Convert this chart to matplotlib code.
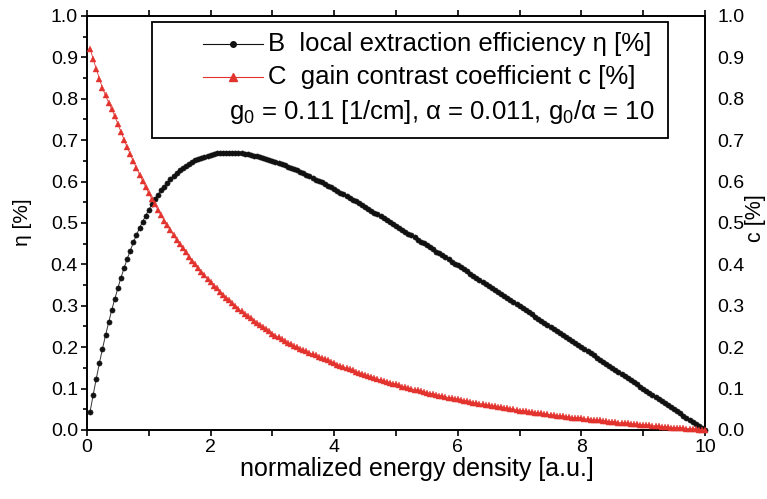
import numpy as np
import matplotlib
matplotlib.use("Agg")
import matplotlib.pyplot as plt
from matplotlib.lines import Line2D
from matplotlib.patches import Rectangle
from matplotlib.ticker import MultipleLocator

plt.rcParams["font.family"] = ["Liberation Sans", "DejaVu Sans"]
plt.rcParams["mathtext.fontset"] = "custom"
plt.rcParams["mathtext.rm"] = "Liberation Sans"
plt.rcParams["mathtext.it"] = "Liberation Sans:italic"
plt.rcParams["mathtext.default"] = "regular"

# sample positions along the normalized energy density axis (step 0.05)
energy = np.round(np.arange(1, 201) * 0.05, 2)

# local extraction efficiency eta
eta = [
    0.044, 0.085, 0.124, 0.161, 0.196, 0.229, 0.260, 0.290, 0.317, 0.343,
    0.368, 0.391, 0.413, 0.433, 0.453, 0.471, 0.488, 0.503, 0.518, 0.532,
    0.545, 0.557, 0.568, 0.579, 0.588, 0.597, 0.606, 0.613, 0.620, 0.627,
    0.633, 0.638, 0.643, 0.647, 0.651, 0.655, 0.658, 0.660, 0.663, 0.665,
    0.666, 0.668, 0.669, 0.669, 0.670, 0.670, 0.670, 0.669, 0.669, 0.668,
    0.667, 0.666, 0.664, 0.663, 0.661, 0.659, 0.657, 0.655, 0.653, 0.650,
    0.648, 0.645, 0.642, 0.639, 0.636, 0.633, 0.630, 0.627, 0.623, 0.620,
    0.616, 0.613, 0.609, 0.605, 0.601, 0.598, 0.594, 0.590, 0.586, 0.582,
    0.578, 0.573, 0.569, 0.565, 0.561, 0.556, 0.552, 0.548, 0.543, 0.539,
    0.534, 0.530, 0.525, 0.521, 0.516, 0.512, 0.507, 0.503, 0.498, 0.493,
    0.489, 0.484, 0.479, 0.474, 0.470, 0.465, 0.460, 0.455, 0.451, 0.446,
    0.441, 0.436, 0.431, 0.427, 0.422, 0.417, 0.412, 0.407, 0.402, 0.398,
    0.393, 0.388, 0.383, 0.378, 0.373, 0.368, 0.363, 0.358, 0.353, 0.349,
    0.344, 0.339, 0.334, 0.329, 0.324, 0.319, 0.314, 0.309, 0.304, 0.299,
    0.294, 0.289, 0.284, 0.279, 0.274, 0.269, 0.264, 0.259, 0.254, 0.249,
    0.244, 0.240, 0.235, 0.230, 0.225, 0.220, 0.215, 0.210, 0.205, 0.200,
    0.195, 0.190, 0.185, 0.180, 0.175, 0.170, 0.165, 0.160, 0.155, 0.150,
    0.145, 0.140, 0.135, 0.130, 0.125, 0.120, 0.115, 0.110, 0.105, 0.100,
    0.095, 0.090, 0.085, 0.080, 0.075, 0.070, 0.065, 0.060, 0.055, 0.050,
    0.045, 0.040, 0.035, 0.030, 0.025, 0.020, 0.015, 0.010, 0.005, 0.000,
]

# gain contrast coefficient c
contrast = [
    0.921, 0.896, 0.872, 0.849, 0.826, 0.808, 0.791, 0.775, 0.758, 0.739,
    0.720, 0.701, 0.683, 0.666, 0.649, 0.633, 0.617, 0.602, 0.587, 0.572,
    0.558, 0.545, 0.531, 0.519, 0.506, 0.494, 0.482, 0.471, 0.460, 0.449,
    0.439, 0.429, 0.419, 0.409, 0.400, 0.391, 0.382, 0.374, 0.365, 0.357,
    0.349, 0.342, 0.334, 0.327, 0.320, 0.313, 0.306, 0.300, 0.293, 0.287,
    0.281, 0.275, 0.270, 0.264, 0.258, 0.253, 0.248, 0.243, 0.238, 0.233,
    0.228, 0.224, 0.219, 0.215, 0.211, 0.207, 0.203, 0.200, 0.196, 0.193,
    0.190, 0.186, 0.183, 0.180, 0.177, 0.174, 0.171, 0.168, 0.165, 0.162,
    0.158, 0.155, 0.152, 0.149, 0.147, 0.144, 0.141, 0.138, 0.136, 0.133,
    0.131, 0.128, 0.126, 0.123, 0.121, 0.118, 0.116, 0.114, 0.112, 0.110,
    0.108, 0.105, 0.103, 0.101, 0.099, 0.097, 0.096, 0.094, 0.092, 0.090,
    0.088, 0.087, 0.085, 0.083, 0.082, 0.080, 0.078, 0.077, 0.075, 0.074,
    0.072, 0.071, 0.069, 0.068, 0.066, 0.065, 0.064, 0.062, 0.061, 0.060,
    0.058, 0.057, 0.056, 0.055, 0.053, 0.052, 0.051, 0.050, 0.049, 0.047,
    0.046, 0.045, 0.044, 0.043, 0.042, 0.041, 0.040, 0.039, 0.038, 0.037,
    0.036, 0.035, 0.034, 0.033, 0.032, 0.031, 0.030, 0.029, 0.029, 0.028,
    0.027, 0.026, 0.025, 0.024, 0.024, 0.023, 0.022, 0.021, 0.020, 0.020,
    0.019, 0.018, 0.017, 0.017, 0.016, 0.015, 0.014, 0.014, 0.013, 0.012,
    0.012, 0.011, 0.010, 0.010, 0.009, 0.008, 0.008, 0.007, 0.006, 0.006,
    0.005, 0.005, 0.004, 0.003, 0.003, 0.002, 0.002, 0.001, 0.001, 0.000,
]

x_ticks = [0, 2, 4, 6, 8, 10]
y_ticks = [0.0, 0.1, 0.2, 0.3, 0.4, 0.5, 0.6, 0.7, 0.8, 0.9, 1.0]

label_eta = "B  local extraction efficiency \u03b7 [%]"
label_c = "C  gain contrast coefficient c [%]"
param_text = "g$_0$ = 0.11 [1/cm], \u03b1 = 0.011, g$_0$/\u03b1 = 10"

BLACK = "#111111"
RED = "#e3332f"

W, H = 767, 499
fig = plt.figure(figsize=(W / 100, H / 100), dpi=100)
L, R, T, B = 87, 705, 16, 430
ax = fig.add_axes([L / W, 1 - B / H, (R - L) / W, (B - T) / H])


def ax_pt(px, py):
    return ((px - L) / (R - L), (B - py) / (B - T))


ax.plot(energy, eta, color="#333333", lw=0.7, marker="o", ms=3.7,
        mec=BLACK, mfc=BLACK, mew=0.4, zorder=3, clip_on=False, snap=False)
ax.plot(energy, contrast, color=RED, lw=0.6, marker="^", ms=5.0,
        mec=RED, mfc=RED, mew=0.3, zorder=4, clip_on=False, snap=False)

ax.set_xlim(0, 10)
ax.set_ylim(0, 1)
ax.set_xticks(x_ticks)
ax.set_xticklabels([str(v) for v in x_ticks])
ax.xaxis.set_minor_locator(MultipleLocator(1))
ax.set_yticks(y_ticks)
ax.set_yticklabels([f"{v:.1f}" for v in y_ticks])
ax.yaxis.set_minor_locator(MultipleLocator(0.05))

for s in ax.spines.values():
    s.set_linewidth(1.4)
    s.set_color("black")

ax.tick_params(axis="x", which="both", direction="out", top=True,
               length=4.5, width=1.2, labelsize=14, pad=2)
ax.tick_params(axis="y", which="major", direction="out", right=False,
               length=4.5, width=1.2, labelsize=14, pad=2)
ax.tick_params(axis="y", which="minor", direction="out", right=False,
               length=3, width=1.2)

ax2 = ax.twinx()
ax2.set_ylim(0, 1)
ax2.set_yticks(y_ticks)
ax2.set_yticklabels([f"{v:.1f}" for v in y_ticks])
ax2.tick_params(axis="y", length=0, labelsize=14, pad=9)
for s in ax2.spines.values():
    s.set_visible(False)

fig.text(417 / W, 1 - 469 / H, "normalized energy density [a.u.]",
         fontsize=18, ha="center", va="center")
fig.text(22 / W, 1 - 222 / H, "\u03b7 [%]", fontsize=15, rotation=90,
         ha="center", va="center")
fig.text(755 / W, 1 - 218 / H, "c [%]", fontsize=15.5, rotation=90,
         ha="center", va="center")

# legend box with the two series and the parameter line
x0, y0 = ax_pt(152, 138)
x1, y1 = ax_pt(668, 22)
ax.add_patch(Rectangle((x0, y0), x1 - x0, y1 - y0, transform=ax.transAxes,
                       facecolor="white", edgecolor="black", lw=1.3,
                       zorder=6, clip_on=False))
rows = [(44, BLACK, "o", 4.0, label_eta), (77, RED, "^", 5.5, label_c)]
for py, col, mk, ms, txt in rows:
    lx0, ly = ax_pt(203, py)
    lx1, _ = ax_pt(263, py)
    mx, _ = ax_pt(233, py)
    ax.add_line(Line2D([lx0, lx1], [ly, ly], color=col, lw=0.8,
                       transform=ax.transAxes, zorder=7, clip_on=False))
    ax.add_line(Line2D([mx], [ly], color=col, marker=mk, ms=ms, mec=col,
                       mfc=col, transform=ax.transAxes, zorder=7,
                       clip_on=False))
    tx, _ = ax_pt(268, py)
    ax.text(tx, ly, txt, transform=ax.transAxes, fontsize=18.5,
            ha="left", va="center", zorder=7)
px_, py_ = ax_pt(655, 112)
ax.text(px_, py_, param_text, transform=ax.transAxes, fontsize=18.5,
        ha="right", va="center", zorder=7)

fig.savefig("out.png", dpi=100)
